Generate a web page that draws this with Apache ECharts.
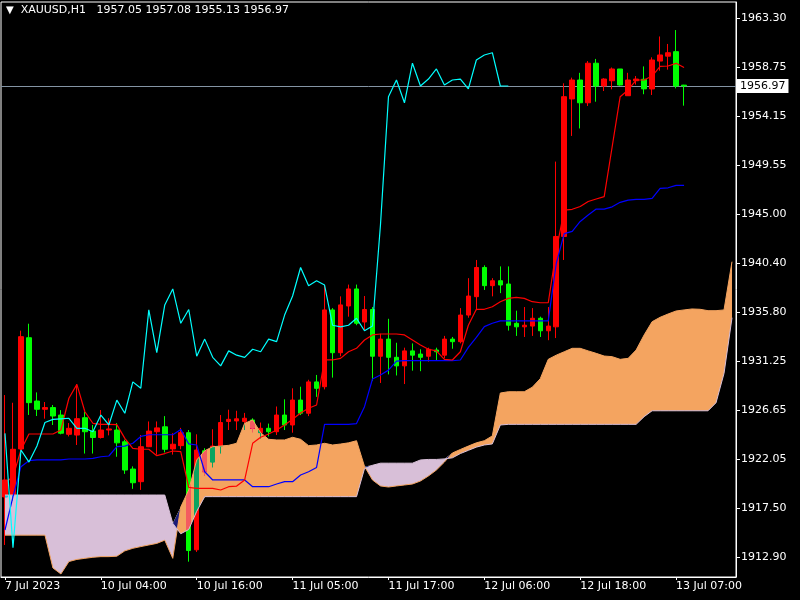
<!DOCTYPE html>
<html><head><meta charset="utf-8">
<script src="https://cdn.jsdelivr.net/npm/echarts@6/dist/echarts.min.js"></script>
<style>html,body{margin:0;padding:0;background:#000;}#c{width:800px;height:600px;}</style>
</head><body><div id="c"></div>
<script>
const categories = [
'7 Jul 15:00','7 Jul 16:00','7 Jul 17:00','7 Jul 18:00','7 Jul 19:00','7 Jul 20:00','7 Jul 21:00','7 Jul 22:00','7 Jul 23:00',
'10 Jul 01:00','10 Jul 02:00','10 Jul 03:00','10 Jul 04:00','10 Jul 05:00','10 Jul 06:00','10 Jul 07:00','10 Jul 08:00','10 Jul 09:00','10 Jul 10:00','10 Jul 11:00','10 Jul 12:00','10 Jul 13:00','10 Jul 14:00','10 Jul 15:00','10 Jul 16:00','10 Jul 17:00','10 Jul 18:00','10 Jul 19:00','10 Jul 20:00','10 Jul 21:00','10 Jul 22:00','10 Jul 23:00',
'11 Jul 01:00','11 Jul 02:00','11 Jul 03:00','11 Jul 04:00','11 Jul 05:00','11 Jul 06:00','11 Jul 07:00','11 Jul 08:00','11 Jul 09:00','11 Jul 10:00','11 Jul 11:00','11 Jul 12:00','11 Jul 13:00','11 Jul 14:00','11 Jul 15:00','11 Jul 16:00','11 Jul 17:00','11 Jul 18:00','11 Jul 19:00','11 Jul 20:00','11 Jul 21:00','11 Jul 22:00','11 Jul 23:00',
'12 Jul 01:00','12 Jul 02:00','12 Jul 03:00','12 Jul 04:00','12 Jul 05:00','12 Jul 06:00','12 Jul 07:00','12 Jul 08:00','12 Jul 09:00','12 Jul 10:00','12 Jul 11:00','12 Jul 12:00','12 Jul 13:00','12 Jul 14:00','12 Jul 15:00','12 Jul 16:00','12 Jul 17:00','12 Jul 18:00','12 Jul 19:00','12 Jul 20:00','12 Jul 21:00','12 Jul 22:00','12 Jul 23:00',
'13 Jul 01:00','13 Jul 02:00','13 Jul 03:00','13 Jul 04:00','13 Jul 05:00','13 Jul 06:00','13 Jul 07:00','13 Jul 08:00','13 Jul 09:00','13 Jul 10:00','13 Jul 11:00','13 Jul 12:00','13 Jul 13:00','13 Jul 14:00'];
const xTickLabels = ['7 Jul 2023','10 Jul 04:00','10 Jul 16:00','11 Jul 05:00','11 Jul 17:00','12 Jul 06:00','12 Jul 18:00','13 Jul 07:00'];
const yTicks = [1912.90,1917.50,1922.05,1926.65,1931.25,1935.80,1940.40,1945.00,1949.55,1954.15,1958.75,1963.30];

const opens = [
1918.54,1918.73,1923.03,1933.43,1927.51,1926.74,1926.9,1926.2,1924.4,1924.33,
1925.95,1924.7,1924.1,1924.8,1924.8,1923.7,1921.15,1919.97,1923.24,1924.64,
1925.1,1923.03,1923.34,1924.55,1913.6,1922.86,1921.8,1923.3,1925.6,1925.65,
1925.6,1925.74,1924.55,1924.96,1924.64,1926.2,1925.27,1927.6,1926.37,1929.3,
1928.85,1936.03,1932.03,1936.4,1937.99,1934.9,1936.07,1931.7,1933.3,1931.6,
1930.8,1932.2,1931.9,1931.7,1932.28,1931.8,1933.3,1933.06,1935.55,1937.27,
1940.0,1938.3,1938.76,1938.45,1934.78,1934.45,1934.52,1935.25,1934.08,1934.45,
1942.9,1955.76,1957.53,1955.4,1959.1,1956.97,1957.46,1958.56,1956.06,1957.46,
1957.6,1956.69,1959.3,1959.76,1960.18,1957.05];
const closes = [
1920.13,1923.0,1933.53,1927.36,1926.74,1926.9,1926.11,1924.5,1924.96,1925.86,
1924.64,1924.1,1924.8,1924.9,1923.6,1921.06,1919.87,1923.24,1924.7,1925.0,
1923.0,1923.47,1924.55,1913.53,1922.93,1920.9,1923.3,1925.5,1925.8,1925.85,
1925.9,1924.96,1924.96,1924.64,1926.2,1925.27,1927.6,1926.37,1929.3,1928.7,
1936.03,1932.03,1936.5,1937.99,1934.78,1936.07,1931.7,1933.3,1931.6,1930.8,
1932.2,1931.8,1931.6,1932.35,1932.12,1933.3,1933.06,1935.55,1937.33,1940.0,
1938.3,1938.76,1938.36,1934.6,1934.45,1934.6,1935.25,1934.08,1934.52,1942.9,
1955.97,1957.53,1955.4,1959.1,1956.97,1957.62,1958.56,1957.06,1957.53,1957.62,
1956.7,1959.4,1959.87,1960.08,1956.97,1956.97];
const lows = [
1914.05,1918.2,1922.8,1926.21,1926.11,1925.86,1925.27,1924.4,1924.2,1923.4,
1922.6,1922.6,1924.0,1924.3,1922.3,1920.7,1919.3,1919.2,1923.2,1922.5,
1922.7,1922.5,1923.0,1912.49,1913.4,1920.5,1921.3,1922.6,1924.8,1924.8,
1924.8,1924.6,1924.0,1924.2,1924.33,1924.8,1924.55,1926.2,1926.1,1927.9,
1928.6,1929.7,1931.7,1935.4,1934.6,1934.08,1929.4,1929.2,1930.0,1929.9,
1929.1,1930.35,1930.3,1931.2,1931.3,1931.5,1932.4,1932.9,1935.3,1936.0,
1937.9,1937.3,1937.6,1934.1,1933.6,1933.5,1933.6,1933.5,1933.2,1933.4,
1940.7,1952.3,1953.0,1955.1,1955.5,1956.5,1956.66,1957.0,1956.06,1957.1,
1956.2,1956.13,1958.4,1958.5,1956.75,1955.13];
const highs = [
1928.07,1927.35,1934.09,1934.74,1928.32,1927.42,1927.14,1926.66,1925.45,1929.07,
1926.5,1925.27,1926.67,1925.9,1925.45,1923.9,1921.4,1924.33,1925.6,1925.6,
1926.1,1924.5,1925.0,1924.8,1924.4,1923.1,1924.87,1926.2,1926.7,1926.6,
1926.4,1925.9,1925.5,1925.4,1927.0,1927.67,1928.7,1928.85,1929.5,1929.95,
1938.36,1936.2,1937.3,1938.4,1938.4,1937.33,1936.3,1933.8,1935.2,1932.96,
1932.5,1932.9,1932.35,1932.5,1932.5,1933.6,1933.5,1936.2,1939.0,1940.7,
1940.2,1939.0,1940.1,1940.1,1935.96,1936.3,1936.2,1935.4,1936.3,1949.9,
1957.22,1957.75,1958.2,1959.3,1959.5,1957.7,1958.7,1958.56,1958.2,1957.9,
1958.8,1959.65,1961.6,1960.9,1962.2,1957.08];

const tenkan = [
1919.87,1920.43,1922.93,1924.43,1924.43,1924.43,1924.43,1924.8,1927.77,1929.07,
1926.51,1925.43,1925.33,1925.33,1925.3,1924.02,1923.09,1923.0,1923.0,1922.4,
1922.6,1922.84,1922.78,1919.44,1919.35,1919.35,1919.35,1919.19,1919.5,1919.56,
1920.13,1923.56,1924.12,1924.43,1924.8,1925.27,1925.8,1926.4,1926.83,1927.14,
1931.35,1931.35,1931.5,1932.12,1932.44,1933.22,1933.69,1933.78,1933.78,1933.78,
1933.69,1933.22,1932.75,1932.35,1932.2,1931.41,1931.35,1932.12,1934.6,1936.09,
1936.09,1936.33,1936.8,1937.11,1937.2,1937.11,1936.8,1936.7,1936.7,1941.6,
1945.37,1945.44,1945.7,1946.17,1946.4,1946.62,1951.29,1955.97,1956.6,1957.53,
1957.53,1957.9,1958.8,1958.84,1959.09,1958.7];
const kijun = [
1915.45,1918.57,1921.37,1921.93,1922.0,1922.0,1922.0,1922.0,1922.09,1922.09,
1922.09,1922.15,1922.3,1922.37,1923.24,1923.3,1923.56,1924.2,1924.36,1924.36,
1924.36,1924.36,1924.86,1923.5,1923.4,1920.9,1920.13,1920.13,1920.13,1920.13,
1920.13,1919.5,1919.5,1919.5,1919.75,1919.97,1919.97,1920.6,1920.9,1921.3,
1925.33,1925.33,1925.33,1925.33,1925.4,1926.98,1929.57,1929.95,1930.4,1931.25,
1931.28,1931.28,1931.28,1931.28,1931.28,1931.28,1931.28,1931.35,1932.53,1933.47,
1934.47,1934.78,1935.0,1935.0,1935.0,1935.0,1935.0,1935.0,1935.0,1940.37,
1943.17,1943.38,1944.3,1944.9,1945.46,1945.46,1945.67,1946.09,1946.3,1946.37,
1946.37,1946.46,1947.4,1947.45,1947.68,1947.68];
const chikou = [
1924.49,1913.8,1922.93,1921.8,1923.3,1925.5,1925.8,1925.85,1925.9,1924.96,
1924.96,1924.64,1926.2,1925.27,1927.6,1926.37,1929.3,1928.7,1936.03,1932.03,
1936.5,1937.99,1934.78,1936.07,1931.7,1933.3,1931.6,1930.8,1932.2,1931.8,
1931.6,1932.35,1932.12,1933.3,1933.06,1935.55,1937.33,1940.0,1938.3,1938.76,
1938.36,1934.6,1934.45,1934.6,1935.25,1934.08,1934.52,1944.0,1955.97,1957.53,
1955.4,1959.1,1956.97,1957.62,1958.56,1957.06,1957.53,1957.62,1956.7,1959.4,
1959.87,1960.08,1956.97,1956.97];
const spanA = [
1914.97,1914.97,1914.97,1914.97,1914.97,1914.97,1911.9,1911.34,1912.5,1912.7,
1912.8,1912.9,1912.96,1912.96,1913.0,1913.5,1913.74,1913.9,1914.05,1914.2,
1914.5,1912.8,1917.6,1919.2,1922.0,1922.86,1923.24,1923.3,1923.37,1923.56,
1925.43,1925.74,1924.55,1923.93,1923.87,1923.87,1924.12,1923.93,1923.34,1923.4,
1923.56,1923.4,1923.49,1923.6,1923.8,1921.4,1920.13,1919.57,1919.47,1919.57,
1919.66,1919.75,1920.03,1920.5,1921.06,1921.8,1922.65,1922.98,1923.3,1923.6,
1923.8,1924.25,1928.26,1928.38,1928.38,1928.38,1928.8,1929.6,1931.41,1931.8,
1932.12,1932.44,1932.44,1932.2,1931.97,1931.72,1931.66,1931.41,1931.5,1932.28,
1933.69,1934.93,1935.34,1935.65,1935.93,1936.03,1936.12,1936.09,1935.96,1935.96,
1936.03,1940.54];
const spanB = [
1918.72,1918.72,1918.72,1918.72,1918.72,1918.72,1918.72,1918.72,1918.72,1918.72,
1918.72,1918.72,1918.72,1918.72,1918.72,1918.72,1918.72,1918.72,1918.72,1918.72,
1918.72,1916.07,1915.1,1915.5,1917.2,1918.57,1918.57,1918.57,1918.57,1918.57,
1918.57,1918.57,1918.57,1918.57,1918.57,1918.57,1918.57,1918.57,1918.57,1918.57,
1918.57,1918.57,1918.57,1918.57,1918.57,1921.2,1921.5,1921.7,1921.7,1921.7,
1921.7,1921.7,1922.0,1922.05,1922.05,1922.1,1922.2,1922.6,1922.9,1923.2,
1923.4,1923.5,1925.27,1925.33,1925.33,1925.33,1925.33,1925.33,1925.33,1925.33,
1925.33,1925.33,1925.33,1925.33,1925.33,1925.33,1925.33,1925.33,1925.33,1925.33,
1926.05,1926.6,1926.6,1926.6,1926.6,1926.6,1926.6,1926.6,1926.6,1927.35,
1930.1,1935.3];

const yMin = 1911.056, yMax = 1964.824;
const last = opens.length - 1;
const lastPrice = closes[last];
const font = 'DejaVu Sans';

const candles = opens.map((o, i) => [o, closes[i], lows[i], highs[i]]);
const orangeH = spanA.map((a, i) => Math.max(a - spanB[i], 0));
const lavH = spanA.map((a, i) => Math.max(spanB[i] - a, 0));

const chart = echarts.init(document.getElementById('c'), null, {renderer: 'canvas'});
const every12 = (i) => i % 12 === 0;
chart.setOption({
  backgroundColor: '#000',
  animation: false,
  title: {
    text: '{t|\u25BC}  XAUUSD,H1   ' + [opens[last], highs[last], lows[last], closes[last]].map(v => v.toFixed(2)).join(' '),
    left: 6, top: 5, padding: 0,
    textStyle: {color: '#fff', fontSize: 11, fontFamily: font, fontWeight: 'normal',
      rich: {t: {fontSize: 10, color: '#fff', fontFamily: font}}}
  },
  grid: {left: 1, right: 64, top: 2, bottom: 23, show: true, borderColor: '#fff', borderWidth: 1,
    backgroundColor: 'transparent', outerBoundsMode: 'none'},
  xAxis: {
    type: 'category', data: categories, boundaryGap: true,
    axisLine: {show: true, lineStyle: {color: '#fff', width: 1}},
    axisTick: {show: true, alignWithLabel: true, interval: every12, length: 3, lineStyle: {color: '#fff'}},
    axisLabel: {interval: every12, formatter: (v, i) => xTickLabels[i / 12], align: 'left',
      color: '#fff', fontFamily: font, fontSize: 11, margin: 4},
    splitLine: {show: false}
  },
  yAxis: {
    type: 'value', position: 'right', min: yMin, max: yMax,
    axisLine: {show: true, lineStyle: {color: '#fff', width: 1}},
    axisTick: {show: true, customValues: yTicks, length: 4, lineStyle: {color: '#fff'}},
    axisLabel: {customValues: yTicks, formatter: v => v.toFixed(2), color: '#fff',
      fontFamily: font, fontSize: 11, margin: 5},
    splitLine: {show: false}
  },
  series: [
    {type: 'candlestick', name: 'XAUUSD', data: candles, barWidth: 5, z: 2, silent: true,
      itemStyle: {color: '#ff0000', color0: '#00ff00', borderColor: '#ff0000', borderColor0: '#00ff00', borderWidth: 1},
      markLine: {symbol: ['none', 'none'], silent: true, z: 1, animation: false,
        data: [{yAxis: lastPrice}],
        lineStyle: {color: '#8494a4', width: 1, type: 'solid'},
        label: {show: true, position: 'end', formatter: lastPrice.toFixed(2), color: '#000',
          backgroundColor: '#fff', padding: [2, 3, 1, 3], fontFamily: font, fontSize: 11, distance: 1}}
    },
    {type: 'line', data: spanB, stack: 'up', stackStrategy: 'all', symbol: 'none', showSymbol: false,
      lineStyle: {opacity: 0, width: 0}, z: 3, silent: true},
    {type: 'line', data: orangeH, stack: 'up', stackStrategy: 'all', symbol: 'none', showSymbol: false,
      lineStyle: {opacity: 0, width: 0}, areaStyle: {color: '#F4A460', opacity: 1}, z: 3, silent: true,
      blendMode: 'difference'},
    {type: 'line', data: spanA, stack: 'dn', stackStrategy: 'all', symbol: 'none', showSymbol: false,
      lineStyle: {opacity: 0, width: 0}, z: 3, silent: true},
    {type: 'line', data: lavH, stack: 'dn', stackStrategy: 'all', symbol: 'none', showSymbol: false,
      lineStyle: {opacity: 0, width: 0}, areaStyle: {color: '#D8BFD8', opacity: 1}, z: 3, silent: true,
      blendMode: 'difference'},
    {type: 'line', name: 'Senkou A', data: spanA, symbol: 'none', showSymbol: false, z: 4, silent: true,
      lineStyle: {color: '#F4A460', width: 1}},
    {type: 'line', name: 'Senkou B', data: spanB, symbol: 'none', showSymbol: false, z: 4, silent: true,
      lineStyle: {color: '#D8BFD8', width: 1}},
    {type: 'line', name: 'Kijun', data: kijun, symbol: 'none', showSymbol: false, z: 5, silent: true,
      lineStyle: {color: '#0000ff', width: 1.2}},
    {type: 'line', name: 'Tenkan', data: tenkan, symbol: 'none', showSymbol: false, z: 5, silent: true,
      lineStyle: {color: '#ff0000', width: 1.2}},
    {type: 'line', name: 'Chikou', data: chikou, symbol: 'none', showSymbol: false, z: 6, silent: true,
      lineStyle: {color: '#00ffff', width: 1.2}}
  ]
});
</script></body></html>
